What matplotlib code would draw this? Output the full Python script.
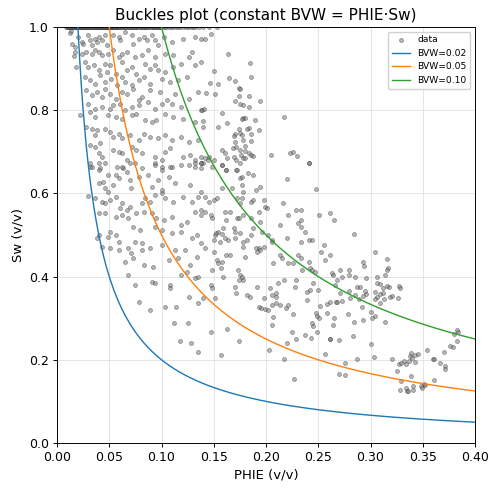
import numpy as np
import matplotlib
matplotlib.use("Agg")
import matplotlib.pyplot as plt

# ---- data ----
bvw_values = [0.02, 0.05, 0.10]
bvw_colors = ["#1f77b4", "#ff7f0e", "#2ca02c"]
x_ticks = [0.00, 0.05, 0.10, 0.15, 0.20, 0.25, 0.30, 0.35, 0.40]
y_ticks = [0.0, 0.2, 0.4, 0.6, 0.8, 1.0]

# points sitting on Sw = 1.0 (clipped water saturation)
phi_sw1 = [0.009, 0.010, 0.011, 0.012, 0.013, 0.0135, 0.015, 0.016, 0.017, 0.018,
           0.019, 0.0195, 0.021, 0.022, 0.023, 0.024, 0.025, 0.026, 0.027, 0.028,
           0.029, 0.030, 0.031, 0.032, 0.033, 0.034, 0.035, 0.036, 0.037, 0.038,
           0.039, 0.040, 0.041, 0.042, 0.043, 0.044, 0.045, 0.046, 0.047, 0.048,
           0.049, 0.050, 0.051, 0.052, 0.053, 0.054, 0.055, 0.056, 0.057, 0.058,
           0.060, 0.061, 0.063, 0.064, 0.066, 0.067, 0.069, 0.071, 0.072, 0.074,
           0.076, 0.077, 0.079, 0.081, 0.083, 0.084, 0.086, 0.088, 0.090, 0.092,
           0.093, 0.095, 0.097, 0.099, 0.101, 0.104, 0.107, 0.111, 0.114, 0.118,
           0.121, 0.125, 0.128, 0.132, 0.136, 0.140, 0.145, 0.153]
phi_sw1_extra = [0.0105, 0.0125, 0.0145, 0.0165, 0.0185, 0.0205, 0.0225, 0.0245,
                 0.0265, 0.0285, 0.0305, 0.0325, 0.0345, 0.0365, 0.0385, 0.0405,
                 0.0425, 0.0445, 0.0465, 0.0485, 0.0505, 0.0525, 0.0545, 0.0565,
                 0.0585, 0.0595, 0.0625, 0.0655, 0.0685, 0.0705, 0.0735, 0.0755,
                 0.0785, 0.0805, 0.0825, 0.0855, 0.0875, 0.0905, 0.0925, 0.0955,
                 0.0975, 0.0995, 0.103, 0.109, 0.116, 0.123, 0.130]

pts_upper_left = [
    (.012, .985), (.014, .960), (.016, .930), (.013, .990), (.018, .905),
    (.017, .952), (.020, .976), (.024, .964), (.025, .960), (.030, .980), (.032, .968),
    (.033, .956), (.036, .972), (.038, .964), (.040, .976), (.043, .968), (.046, .980),
    (.048, .956), (.054, .980), (.059, .976), (.060, .968), (.065, .988), (.072, .980),
    (.073, .960), (.078, .972), (.083, .976), (.086, .968), (.091, .980), (.094, .968),
    (.097, .956), (.102, .976), (.110, .964), (.121, .972), (.132, .976), (.138, .972),
    (.017, .940), (.024, .936), (.028, .940), (.033, .936), (.036, .944), (.040, .940),
    (.043, .932), (.049, .936), (.054, .944), (.059, .928), (.062, .936), (.067, .940),
    (.075, .928), (.081, .932), (.087, .944), (.094, .928), (.103, .936), (.111, .932),
    (.126, .928), (.129, .940),
    (.027, .916), (.030, .904), (.035, .908), (.040, .896), (.046, .912), (.048, .892),
    (.051, .908), (.056, .888), (.062, .916), (.067, .896), (.072, .904), (.076, .888),
    (.084, .912), (.089, .900), (.094, .908), (.097, .896), (.103, .892), (.111, .904),
    (.119, .912), (.132, .908), (.138, .916),
    (.027, .880), (.032, .872), (.036, .864), (.041, .884), (.046, .868), (.052, .876),
    (.057, .860), (.062, .880), (.065, .868), (.072, .860), (.078, .872), (.083, .880),
    (.089, .864), (.100, .876), (.108, .868), (.116, .872), (.124, .880),
    (.028, .848), (.033, .836), (.038, .844), (.043, .832), (.046, .852), (.051, .840),
    (.056, .828), (.062, .844), (.067, .840), (.073, .852), (.078, .824), (.081, .832),
    (.089, .848), (.099, .844), (.105, .824), (.113, .840), (.126, .828), (.135, .844),
    (.030, .816), (.036, .804), (.043, .808), (.051, .804), (.054, .812), (.060, .816),
    (.065, .800), (.072, .808), (.078, .812), (.087, .820), (.094, .804), (.100, .816),
    (.110, .816), (.119, .808), (.138, .800),
    (.022, .788), (.032, .796), (.036, .784), (.049, .788), (.056, .784), (.062, .780),
    (.072, .788), (.076, .792), (.084, .776), (.091, .772), (.095, .776), (.103, .792),
    (.111, .784), (.121, .780), (.132, .772), (.140, .760),
    (.028, .760), (.033, .756), (.038, .752), (.046, .756), (.051, .748), (.036, .740),
    (.054, .736), (.059, .744), (.062, .732), (.070, .740), (.078, .728), (.083, .744),
    (.089, .736), (.097, .732), (.103, .740), (.110, .728), (.119, .736), (.126, .724),
    (.135, .728),
    (.032, .716), (.036, .712), (.041, .720), (.040, .696), (.043, .688), (.054, .704),
    (.059, .700), (.062, .696), (.067, .680), (.072, .712), (.076, .704), (.081, .696),
    (.094, .688), (.100, .680), (.103, .700), (.108, .708), (.121, .688), (.127, .692),
    (.132, .680), (.138, .688), (.032, .664), (.040, .672), (.057, .664), (.063, .660),
    (.070, .672), (.094, .672), (.100, .664), (.110, .664), (.126, .668), (.132, .664),
    (.138, .672),
]

pts_mid_left = [
    (.032, .672), (.041, .660), (.049, .644), (.056, .644), (.040, .624), (.044, .628),
    (.054, .620), (.046, .612), (.049, .604), (.030, .593), (.036, .588), (.043, .580),
    (.046, .576), (.051, .584), (.056, .592), (.062, .576), (.060, .564), (.067, .560),
    (.070, .568), (.081, .576), (.084, .588), (.089, .580), (.094, .596), (.100, .600),
    (.103, .588), (.111, .580), (.121, .592), (.129, .580), (.135, .592), (.138, .560),
    (.040, .552), (.046, .552), (.056, .544), (.062, .548), (.068, .540), (.076, .552),
    (.083, .556), (.091, .552), (.095, .540), (.102, .536), (.110, .544), (.119, .524),
    (.124, .532), (.132, .556), (.138, .548),
    (.038, .492), (.040, .500), (.051, .508), (.056, .500), (.049, .496), (.059, .484),
    (.075, .484), (.081, .480), (.073, .520), (.079, .512), (.094, .520), (.100, .512),
    (.110, .504), (.119, .508), (.129, .492), (.134, .500), (.138, .480),
    (.043, .472), (.051, .468), (.059, .464), (.068, .468), (.071, .456), (.081, .464),
    (.089, .468), (.100, .476), (.113, .464), (.122, .464), (.134, .448),
    (.065, .436), (.073, .444), (.083, .428), (.092, .424), (.107, .440), (.116, .444),
    (.127, .428), (.124, .412), (.119, .404), (.132, .396), (.135, .400), (.068, .404),
    (.075, .380), (.091, .388), (.094, .384), (.108, .380), (.108, .372), (.126, .352),
    (.033, .664), (.040, .656), (.046, .672), (.062, .664), (.067, .652), (.075, .672),
    (.081, .660), (.094, .668), (.100, .656), (.108, .664), (.119, .668), (.132, .672),
    (.138, .660), (.059, .636), (.070, .632), (.078, .640), (.087, .644), (.097, .632),
    (.107, .640), (.113, .624), (.127, .620), (.138, .604), (.071, .612), (.091, .616),
    (.100, .608),
    (.078, .340), (.089, .320), (.103, .326), (.114, .326), (.135, .336), (.112, .289),
    (.125, .289), (.118, .246), (.128, .240), (.135, .218),
]

pts_upper_mid = [
    (.142, .972), (.147, .984), (.164, .936), (.185, .914), (.150, .894), (.186, .880),
    (.165, .878), (.170, .870), (.146, .866), (.154, .864), (.143, .842), (.151, .840),
    (.174, .854), (.175, .852), (.174, .835), (.184, .835), (.194, .823), (.170, .821),
    (.175, .816), (.178, .813), (.184, .808), (.139, .800), (.141, .804), (.158, .794),
    (.217, .784), (.178, .781), (.180, .782), (.177, .778), (.189, .776), (.140, .773),
    (.163, .770), (.154, .760), (.184, .758), (.182, .754), (.193, .753), (.174, .756),
    (.170, .744), (.169, .737), (.175, .745), (.177, .740), (.178, .729), (.186, .744),
    (.186, .726), (.170, .724), (.180, .714), (.168, .710), (.171, .712), (.175, .704),
    (.184, .697), (.186, .692), (.180, .702), (.188, .689), (.158, .705), (.161, .696),
    (.163, .686), (.169, .688), (.176, .693), (.178, .684), (.180, .686), (.171, .681),
    (.175, .672), (.205, .692), (.223, .698), (.226, .700), (.230, .689), (.241, .672),
    (.142, .684), (.145, .688), (.150, .681), (.140, .672), (.144, .681), (.158, .668),
    (.171, .657), (.162, .657),
]

pts_center = [
    (.138, .672), (.148, .664), (.158, .668), (.162, .656), (.172, .656), (.175, .636),
    (.177, .640), (.183, .648), (.188, .644), (.194, .616), (.190, .608), (.177, .620),
    (.178, .604), (.167, .612), (.158, .612), (.142, .592), (.145, .580), (.150, .584),
    (.153, .588), (.172, .588), (.177, .588), (.175, .576), (.186, .580), (.188, .584),
    (.198, .584), (.199, .568), (.201, .564), (.216, .576), (.229, .560), (.233, .561),
    (.221, .548), (.241, .672), (.220, .634), (.248, .610), (.142, .556), (.147, .548),
    (.148, .540), (.161, .556), (.166, .556), (.172, .540), (.174, .540), (.178, .548),
    (.186, .540), (.193, .556), (.194, .532), (.162, .536), (.169, .516), (.170, .508),
    (.175, .504), (.159, .516), (.154, .508), (.151, .500), (.152, .504), (.158, .502),
    (.161, .492), (.164, .488), (.156, .484), (.150, .488), (.170, .492), (.178, .484),
    (.182, .488), (.186, .500), (.188, .516), (.196, .508), (.202, .500), (.206, .488),
    (.198, .472), (.213, .524), (.220, .492), (.233, .536), (.231, .528), (.233, .520),
    (.237, .508), (.233, .484), (.241, .488), (.244, .488), (.251, .548), (.261, .552),
    (.265, .537), (.255, .476), (.253, .460), (.142, .468), (.150, .460), (.162, .452),
    (.166, .452), (.178, .472), (.180, .448), (.190, .468), (.193, .468), (.194, .464),
    (.191, .460), (.206, .484), (.213, .452), (.215, .444), (.207, .432), (.221, .432),
    (.226, .432), (.231, .452), (.233, .444), (.241, .436), (.234, .416), (.242, .420),
    (.244, .416), (.247, .412), (.256, .440), (.264, .404), (.271, .417), (.273, .400),
    (.279, .404), (.153, .441), (.154, .432), (.158, .436), (.157, .420), (.148, .417),
    (.159, .400), (.173, .416), (.175, .404), (.177, .400), (.174, .392), (.178, .393),
    (.191, .376), (.204, .372), (.206, .356), (.211, .385), (.210, .361), (.217, .393),
    (.229, .392), (.228, .376), (.210, .352), (.198, .348), (.182, .356), (.185, .352),
    (.170, .376), (.171, .361), (.147, .380), (.148, .372), (.151, .348), (.140, .348),
    (.239, .364), (.242, .368), (.245, .384), (.267, .340), (.273, .342), (.271, .360),
    (.250, .368),
]

pts_lower_mid = [
    (.193, .326), (.195, .324), (.199, .321), (.202, .320), (.206, .332), (.210, .336),
    (.213, .332), (.219, .324), (.221, .332), (.239, .344), (.252, .329), (.258, .334),
    (.261, .340), (.268, .340), (.248, .312), (.249, .305), (.258, .312), (.251, .300),
    (.265, .300), (.244, .289), (.245, .281), (.226, .310), (.207, .302), (.206, .284),
    (.225, .268), (.147, .268), (.163, .273), (.174, .244), (.203, .224), (.220, .240),
    (.229, .249), (.237, .260), (.243, .252), (.249, .266), (.261, .249), (.270, .248),
    (.264, .284), (.256, .214), (.217, .201), (.157, .212), (.227, .153), (.270, .166),
]

pts_right = [
    (.284, .502), (.261, .452), (.304, .458), (.293, .436), (.294, .425), (.316, .442),
    (.317, .420), (.316, .417), (.314, .404), (.263, .409), (.279, .417), (.268, .393),
    (.266, .380), (.285, .398), (.296, .396), (.306, .398), (.306, .384), (.309, .382),
    (.312, .372), (.316, .377), (.318, .376), (.327, .377), (.328, .372), (.279, .366),
    (.287, .376), (.290, .376), (.295, .366), (.296, .358), (.280, .348), (.285, .356),
    (.293, .353), (.289, .346), (.304, .364), (.309, .358), (.312, .360), (.306, .350),
    (.304, .347), (.309, .336), (.313, .346), (.319, .350), (.321, .353), (.326, .348),
    (.292, .326), (.300, .316), (.304, .305), (.301, .301), (.278, .310), (.284, .290),
    (.293, .296), (.314, .291), (.261, .250), (.283, .257), (.300, .237), (.303, .207),
    (.287, .201), (.321, .201), (.276, .192), (.276, .163), (.325, .172), (.327, .190),
    (.329, .193), (.332, .196), (.334, .190), (.337, .198), (.338, .208), (.340, .204),
    (.343, .212), (.345, .213), (.339, .217), (.343, .194), (.354, .224), (.360, .201),
    (.361, .201), (.366, .192), (.371, .185), (.371, .177), (.370, .218), (.376, .232),
    (.379, .230), (.383, .245), (.380, .261), (.383, .272), (.384, .268), (.329, .148),
    (.334, .132), (.335, .124), (.336, .124), (.341, .128), (.341, .137), (.348, .138),
    (.349, .132), (.351, .141), (.352, .140), (.361, .152), (.339, .161), (.328, .128),
]

# ---- assemble ----
groups = [pts_upper_left, pts_mid_left, pts_upper_mid, pts_center, pts_lower_mid, pts_right]
pts = np.array([p for g in groups for p in g])
phi_top = np.array(phi_sw1 + phi_sw1_extra)
phi_data = np.concatenate([phi_top, pts[:, 0]])
sw_data = np.concatenate([np.ones(len(phi_top)), pts[:, 1]])

S = 0.85  # scale of line widths / tick sizes in the reference
plt.rcParams.update({
    "font.size": 9,
    "axes.linewidth": 0.8 * S,
    "xtick.major.width": 0.8 * S,
    "ytick.major.width": 0.8 * S,
    "xtick.major.size": 3.5 * S,
    "ytick.major.size": 3.5 * S,
    "xtick.major.pad": 3.5 * S,
    "ytick.major.pad": 3.5 * S,
    "xtick.labelsize": 9,
    "ytick.labelsize": 9,
})

fig = plt.figure(figsize=(4.98, 4.92), dpi=100)
ax = fig.add_axes([0.1145, 0.0996, 0.8394, 0.8455])

ax.scatter(phi_data, sw_data, s=8, c="0.45", edgecolors="0.15", linewidths=0.5,
           alpha=0.5, label="data", zorder=2)

phi_curve = np.linspace(0.005, 0.40, 500)
for bvw, col in zip(bvw_values, bvw_colors):
    ax.plot(phi_curve, bvw / phi_curve, color=col, lw=1.0,
            label=f"BVW={bvw:.2f}", zorder=3)

ax.set_xlim(0, 0.40)
ax.set_ylim(0, 1.0)
ax.set_xticks(x_ticks)
ax.set_yticks(y_ticks)
ax.set_xticklabels([f"{t:.2f}" for t in x_ticks])
ax.set_yticklabels([f"{t:.1f}" for t in y_ticks])
ax.grid(True, color="0.85", lw=0.8 * S, alpha=0.7, zorder=0)
ax.set_axisbelow(True)
ax.set_xlabel("PHIE (v/v)", fontsize=9.5, labelpad=4 * S)
ax.set_ylabel("Sw (v/v)", fontsize=9.5, labelpad=4 * S)
ax.set_title("Buckles plot (constant BVW = PHIE·Sw)", fontsize=11, pad=6 * S)
ax.legend(loc="upper right", fontsize=6.6, framealpha=0.9)

fig.savefig("out.png", dpi=100)
